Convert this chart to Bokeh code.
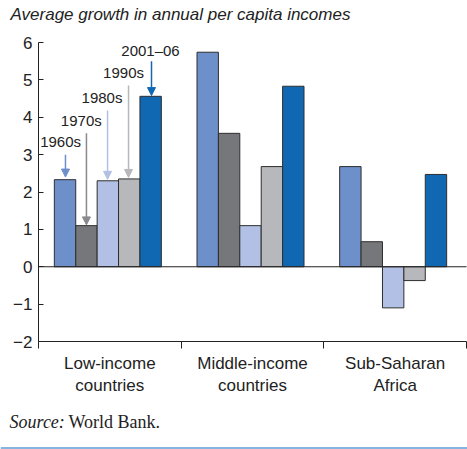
from bokeh.plotting import figure
from bokeh.models import (ColumnDataSource, FixedTicker, Label, Arrow, NormalHead)
from bokeh.embed import file_html
from bokeh.resources import INLINE

regions = ["Low-income\ncountries", "Middle-income\ncountries", "Sub-Saharan\nAfrica"]
decades = ["1960s", "1970s", "1980s", "1990s", "2001\u201306"]
values = {
    "1960s":      [2.33, 5.74, 2.68],
    "1970s":      [1.10, 3.57, 0.67],
    "1980s":      [2.30, 1.10, -1.10],
    "1990s":      [2.35, 2.68, -0.37],
    "2001\u201306": [4.56, 4.83, 2.47],
}
colors = ["#6d8fca", "#76777b", "#b1c0e4", "#b7b8bc", "#1068b3"]
arrow_colors = ["#6d8fca", "#8a8a8e", "#b1c0e4", "#b7b8bc", "#1068b3"]
y_ticks = [-2, -1, 0, 1, 2, 3, 4, 5, 6]
y_lo, y_hi = -2, 6
x_lo, x_hi = 0, 3

FONT = "Liberation Sans"

# frame covers the whole canvas; axes are pinned at data locations
X_MIN, X_MAX = -0.2664, 3.007
Y_MIN, Y_MAX = -4.8896, 7.124
p = figure(width=467, height=449, x_range=(X_MIN, X_MAX), y_range=(Y_MIN, Y_MAX),
           output_backend="svg", toolbar_location=None,
           min_border=0, min_border_left=0, min_border_right=0,
           min_border_top=0, min_border_bottom=0)
p.outline_line_color = None
p.grid.visible = False
p.background_fill_color = "white"
p.border_fill_color = "white"

bar_w = 0.15
offsets = [-0.3, -0.15, 0.0, 0.15, 0.3]
for d, c, off in zip(decades, colors, offsets):
    xs = [i + 0.5 - 0.014 + off for i in range(len(regions))]
    vals = values[d]
    src = ColumnDataSource(dict(x=xs, top=[max(v, 0) for v in vals],
                                bottom=[min(v, 0) for v in vals]))
    p.vbar(x="x", top="top", bottom="bottom", width=bar_w, source=src,
           fill_color=c, line_color="#2e2e2e", line_width=1)

# zero line
p.segment(x0=[x_lo], x1=[x_hi], y0=[0], y1=[0], line_color="#222222", line_width=1)

# y axis
p.yaxis.fixed_location = x_lo
p.yaxis.bounds = (y_lo, y_hi)
p.yaxis.ticker = FixedTicker(ticks=y_ticks)
p.yaxis.major_label_overrides = {t: (str(t).replace("-", "\u2212")) for t in y_ticks}
p.yaxis.major_tick_in = 5
p.yaxis.major_tick_out = 0
p.yaxis.minor_tick_line_color = None
p.yaxis.axis_line_color = "#222222"
p.yaxis.major_tick_line_color = "#222222"
p.yaxis.major_label_text_font = FONT
p.yaxis.major_label_text_font_size = "17px"
p.yaxis.major_label_text_color = "#222222"
p.yaxis.major_label_standoff = 6

# x axis
centers = [i + 0.5 for i in range(len(regions))]
p.xaxis.fixed_location = y_lo
p.xaxis.bounds = (x_lo, x_hi)
p.xaxis.ticker = FixedTicker(ticks=centers, minor_ticks=[0, 1, 2, 3])
p.xaxis.major_label_overrides = {c: r for c, r in zip(centers, regions)}
p.xaxis.major_tick_in = 0
p.xaxis.major_tick_out = 0
p.xaxis.minor_tick_in = 0
p.xaxis.minor_tick_out = 7
p.xaxis.minor_tick_line_color = "#222222"
p.xaxis.axis_line_color = "#222222"
p.xaxis.major_label_text_font = FONT
p.xaxis.major_label_text_font_size = "17px"
p.xaxis.major_label_text_color = "#222222"
p.xaxis.major_label_standoff = 5

# decade annotations (label + arrow)
lab_x = [0.155, 0.30, 0.445, 0.596, 0.785]
lab_y = [3.35, 3.91, 4.53, 5.20, 5.79]
arr_x = [0.189, 0.336, 0.484, 0.631, 0.792]
arr_y0 = [3.00, 3.57, 4.18, 4.85, 5.50]
arr_y1 = [2.40, 1.12, 2.34, 2.39, 4.58]
for d, lx, ly, ax, y0, y1, ac in zip(decades, lab_x, lab_y, arr_x, arr_y0, arr_y1, arrow_colors):
    p.add_layout(Label(x=lx, y=ly, text=d, text_align="center", text_baseline="middle",
                       text_font=FONT, text_font_size="15px", text_color="#222222"))
    p.add_layout(Arrow(x_start=ax, y_start=y0, x_end=ax, y_end=y1,
                       line_color=ac, line_width=1.5,
                       end=NormalHead(size=8, fill_color=ac, line_color=ac)))

# title and source
p.add_layout(Label(x=-0.196, y=6.749,
                   text="Average growth in annual per capita incomes",
                   text_font=FONT, text_font_size="17px", text_font_style="italic",
                   text_color="#222222", text_baseline="middle"))
p.add_layout(Label(x=-0.203, y=-4.167,
                   text="Source:", text_font="Liberation Serif", text_font_size="18px",
                   text_font_style="italic", text_color="#222222", text_baseline="middle"))
p.add_layout(Label(x=0.210, y=-4.167,
                   text="World Bank.", text_font="Liberation Serif", text_font_size="18px",
                   text_color="#222222", text_baseline="middle"))

# light blue rule at the bottom of the page
p.segment(x0=[X_MIN], x1=[X_MAX], y0=[-4.8495], y1=[-4.8495],
          line_color="#5b9bd5", line_width=1.5)

open("out.html", "w").write(file_html(p, INLINE))
